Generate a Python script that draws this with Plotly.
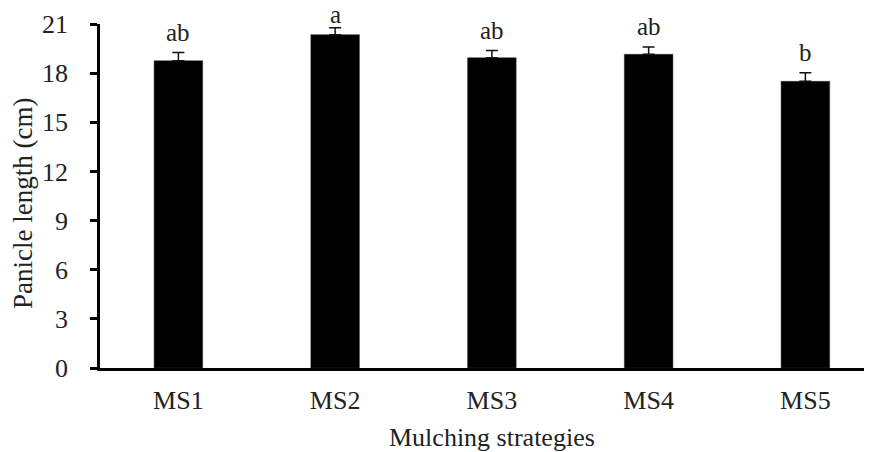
import plotly.graph_objects as go

categories = ["MS1", "MS2", "MS3", "MS4", "MS5"]
values = [18.76, 20.35, 18.94, 19.15, 17.5]
errors = [0.5, 0.42, 0.44, 0.45, 0.53]
letters = ["ab", "a", "ab", "ab", "b"]
y_ticks = [0, 3, 6, 9, 12, 15, 18, 21]
x_title = "Mulching strategies"
y_title = "Panicle length (cm)"

# style: vertical pixel offset of each letter above its error bar
label_shift = [4.5, -2, 4.5, 4.5, 4.5]

font = "Liberation Serif, Times New Roman, serif"

fig = go.Figure()
fig.add_trace(go.Bar(
    x=categories, y=values, width=0.31,
    marker=dict(color="black", line=dict(color="#333", width=0.5)),
    error_y=dict(type="data", symmetric=False, array=errors, arrayminus=[0] * len(errors),
                 visible=True, color="#111", thickness=1.5, width=6),
))

for c, v, e, t, s in zip(categories, values, errors, letters, label_shift):
    fig.add_annotation(x=c, y=v + e, text=t, showarrow=False, yanchor="bottom", yshift=s,
                       font=dict(family=font, size=25, color="#222"))

# axis titles as annotations for exact placement
fig.add_annotation(xref="paper", yref="paper", x=0.5, y=0, xshift=6, yshift=-69,
                   yanchor="middle", xanchor="center", text=x_title, showarrow=False,
                   font=dict(family=font, size=26, color="#222"))
fig.add_annotation(xref="paper", yref="paper", x=0, y=0.5, xshift=-77, yshift=-8,
                   yanchor="middle", xanchor="center", textangle=-90, text=y_title,
                   showarrow=False, font=dict(family=font, size=27, color="#222"))

# page body has an 8px margin, so the figure is 8px smaller than the window
fig.update_layout(
    template="none",
    width=864, height=444,
    margin=dict(l=92, r=0, t=16, b=84, pad=0),
    plot_bgcolor="white", paper_bgcolor="white",
    showlegend=False,
    font=dict(family=font, size=26, color="#222"),
    xaxis=dict(range=[-0.5, 4.425], showline=True, linecolor="black", linewidth=2.5,
               ticks="", showgrid=False, ticklabelstandoff=7, automargin=False,
               zeroline=False, tickfont=dict(size=26)),
    yaxis=dict(range=[0, 21], tickvals=y_ticks, showline=True, linecolor="black", linewidth=2.5,
               ticks="outside", ticklen=7, tickwidth=2.5, tickcolor="black", showgrid=False,
               zeroline=False, ticklabelstandoff=17, automargin=False,
               tickfont=dict(size=26)),
)

fig.write_html("out.html")
